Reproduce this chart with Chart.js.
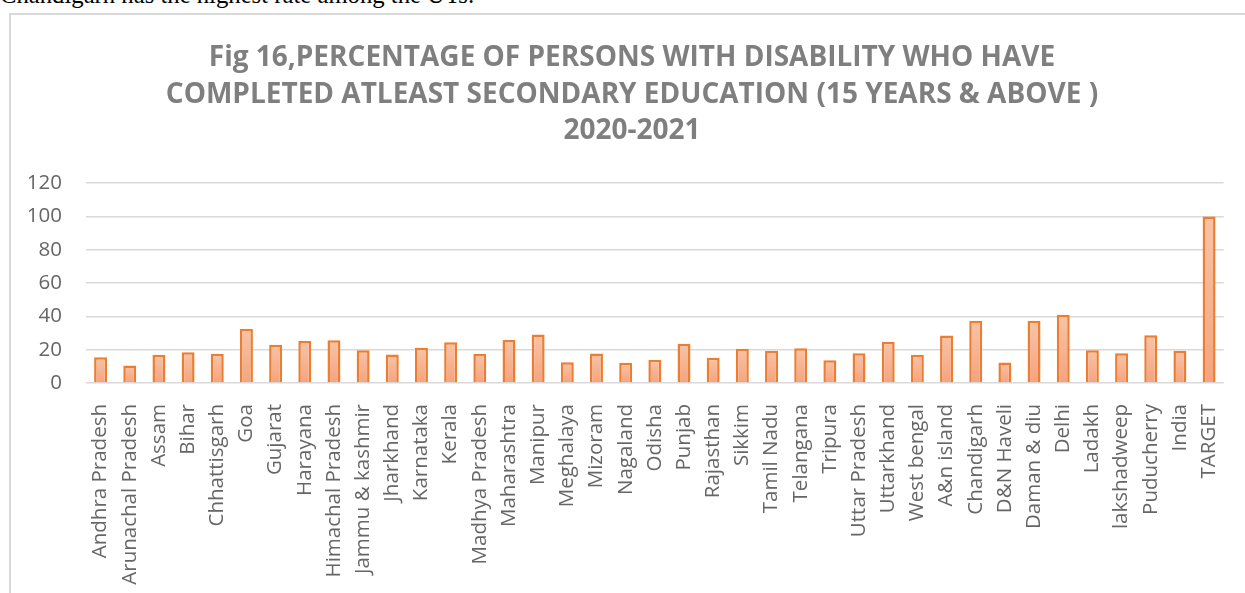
<!DOCTYPE html>
<html>
<head>
<meta charset="utf-8">
<script src="https://cdn.jsdelivr.net/npm/chart.js@4/dist/chart.umd.min.js"></script>
<style>
    html, body {
        margin: 0;
        padding: 0;
        background: #ffffff;
        overflow: hidden;
        width: 1245px;
        height: 593px;
    }
    .lead {
        position: absolute;
        left: 0;
        top: -17.5px;
        font-family: "Liberation Serif", "Times New Roman", serif;
        font-size: 24.7px;
        line-height: 24.7px;
        color: #000000;
        white-space: nowrap;
    }
    .frame {
        position: absolute;
        left: 9px;
        top: 13px;
        width: 1260px;
        height: 620px;
        border-left: 2px solid #d9d9d9;
        border-top: 2px solid #d9d9d9;
    }
    .chart-box {
        position: absolute;
        left: 9px;
        top: 13px;
        width: 1246px;
        height: 600px;
    }
</style>
</head>
<body>
<div class="lead">Chandigarh has the highest rate among the UTs.</div>
<div class="frame"></div>
<div class="chart-box"><canvas id="eduChart"></canvas></div>
<script>
const titleLines = [
    "Fig 16,PERCENTAGE OF PERSONS WITH DISABILITY WHO HAVE",
    "COMPLETED ATLEAST SECONDARY EDUCATION (15 YEARS & ABOVE )",
    "2020-2021"
];

const states = [
    "Andhra Pradesh", "Arunachal Pradesh", "Assam", "Bihar", "Chhattisgarh",
    "Goa", "Gujarat", "Harayana", "Himachal Pradesh", "Jammu & kashmir",
    "Jharkhand", "Karnataka", "Kerala", "Madhya Pradesh", "Maharashtra",
    "Manipur", "Meghalaya", "Mizoram", "Nagaland", "Odisha",
    "Punjab", "Rajasthan", "Sikkim", "Tamil Nadu", "Telangana",
    "Tripura", "Uttar Pradesh", "Uttarkhand", "West bengal", "A&n island",
    "Chandigarh", "D&N Haveli", "Daman & diu", "Delhi", "Ladakh",
    "lakshadweep", "Puducherry", "India", "TARGET"
];

const secondaryPct = [
    15.5, 10.5, 16.9, 18.5, 17.5,
    32.6, 22.9, 25.3, 25.7, 19.7,
    17.1, 21.1, 24.5, 17.5, 25.9,
    29.1, 12.5, 17.7, 12.1, 13.9,
    23.5, 15.1, 20.5, 19.3, 20.9,
    13.7, 17.9, 24.7, 16.9, 28.5,
    37.4, 12.3, 37.4, 41.0, 19.7,
    17.9, 28.7, 19.3, 100
];

const yTicks = [0, 20, 40, 60, 80, 100, 120];

// each bar gets its own light-to-dark fade, from its top down to zero
function barFill(context) {
    const chart = context.chart;
    if (!chart.chartArea) {
        return "#f5ad8a";
    }
    const y = chart.scales.y;
    const top = y.getPixelForValue(context.raw);
    const bottom = y.getPixelForValue(0);
    if (!isFinite(top) || bottom - top < 1) {
        return "#f5ad8a";
    }
    const grad = chart.ctx.createLinearGradient(0, top, 0, bottom);
    grad.addColorStop(0, "#f8c3a7");
    grad.addColorStop(1, "#f4a47e");
    return grad;
}

new Chart(document.getElementById("eduChart"), {
    type: "bar",
    data: {
        labels: states,
        datasets: [
            {
                label: "Secondary education (%)",
                data: secondaryPct,
                backgroundColor: barFill,
                borderColor: "#ed7d31",
                borderWidth: 2.5,
                categoryPercentage: 1,
                barPercentage: 0.444
            }
        ]
    },
    options: {
        responsive: true,
        maintainAspectRatio: false,
        animation: false,
        plugins: {
            legend: { display: false },
            tooltip: { enabled: false },
            title: {
                display: true,
                text: titleLines,
                color: "#7f7f7f",
                font: { family: "'Open Sans'", size: 28, weight: "bold", lineHeight: 1.3 },
                padding: { top: 27, bottom: 34 }
            }
        },
        scales: {
            x: {
                grid: { display: false, drawTicks: false },
                border: { display: false },
                ticks: {
                    autoSkip: false,
                    maxRotation: 90,
                    minRotation: 90,
                    padding: 21,
                    color: "#666666",
                    font: { family: "'Open Sans'", size: 20.5 }
                },
                afterFit: function (scale) {
                    scale.height = 230;
                }
            },
            y: {
                min: 0,
                max: 120,
                afterBuildTicks: function (scale) {
                    scale.ticks = yTicks.map(function (v) { return { value: v }; });
                },
                grid: { color: "#d9d9d9", lineWidth: 1.5, drawTicks: false },
                border: { display: false },
                ticks: {
                    padding: 24,
                    color: "#666666",
                    font: { family: "'Open Sans'", size: 20.5 }
                },
                afterFit: function (scale) {
                    scale.width = 77;
                }
            },
            // empty right-hand gutter so the title stays centred on the whole frame
            gutter: {
                position: "right",
                display: true,
                grid: { display: false, drawTicks: false },
                border: { display: false },
                ticks: { display: false },
                afterFit: function (scale) {
                    scale.width = 25;
                }
            }
        }
    }
});
</script>
</body>
</html>
